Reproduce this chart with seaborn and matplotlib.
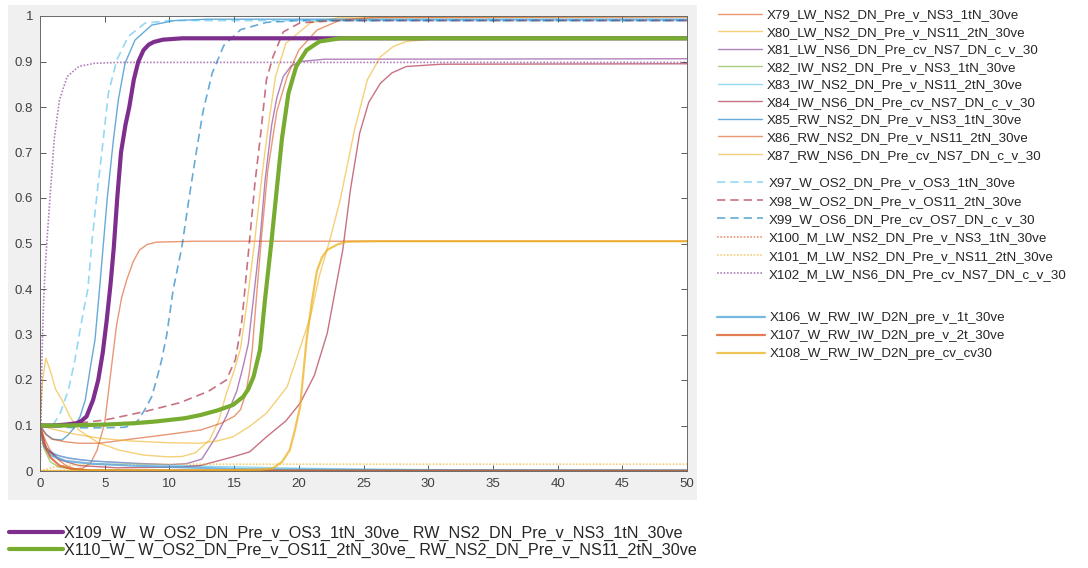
import matplotlib
matplotlib.use("Agg")
import matplotlib.pyplot as plt
from matplotlib.patches import Rectangle
import seaborn as sns

# ---- data ----
x79 = [0, 0.3, 0.7, 1.2, 2, 2.7, 3.3, 3.9, 4.4, 5.0, 5.4, 5.9, 6.3, 6.7, 7.2, 7.7, 8.3, 9, 12, 50]
y79 = [0.1, 0.075, 0.05, 0.03, 0.012, 0.005, 0.006, 0.017, 0.045, 0.105, 0.2, 0.317, 0.38, 0.42, 0.46, 0.486, 0.498, 0.503, 0.505, 0.505]

x80 = [0, 0.2, 0.45, 0.8, 1.2, 1.7, 2.3, 3.0, 4.5, 6.1, 8, 9.9, 11, 12, 12.6, 13.1, 13.8, 14.4, 15.0, 15.5, 16.0,
       16.6, 17.2, 17.7, 18.2, 19, 20.9, 23, 50]
y80 = [0.1, 0.2, 0.248, 0.22, 0.18, 0.156, 0.12, 0.09, 0.062, 0.046, 0.035, 0.031, 0.032, 0.04, 0.055, 0.068, 0.11,
       0.17, 0.22, 0.27, 0.37, 0.508, 0.66, 0.77, 0.867, 0.94, 0.985, 0.996, 0.998]

x81 = [0, 0.2, 0.5, 1, 2.2, 4, 7.3, 10, 11.3, 12.5, 13.6, 14.4, 15.2, 15.7, 16.1, 16.5, 17.0, 17.4, 17.9, 18.3, 18.8,
       19.4, 20.1, 22, 50]
y81 = [0.1, 0.07, 0.046, 0.037, 0.028, 0.022, 0.017, 0.014, 0.016, 0.026, 0.075, 0.12, 0.175, 0.23, 0.28, 0.38, 0.508,
       0.64, 0.76, 0.82, 0.867, 0.89, 0.9, 0.905, 0.906]

x82 = [0, 0.3, 0.8, 1.5, 3, 10, 50]
y82 = [0.1, 0.05, 0.02, 0.008, 0.003, 0.002, 0.001]

x83 = [0, 0.3, 0.7, 1.5, 3, 5, 8, 12, 20, 30, 50]
y83 = [0.1, 0.06, 0.045, 0.033, 0.025, 0.02, 0.015, 0.011, 0.006, 0.003, 0.002]

x84 = [0, 0.5, 1.5, 3, 6, 9, 11, 12.4, 14.9, 16.2, 17.5, 19.0, 20.1, 21.2, 22.2, 23.4, 24.0, 24.7, 25.4, 26.3, 27.2,
       28.3, 31, 50]
y84 = [0.1, 0.05, 0.025, 0.012, 0.007, 0.008, 0.009, 0.012, 0.031, 0.042, 0.075, 0.11, 0.149, 0.21, 0.303, 0.486,
       0.62, 0.742, 0.81, 0.852, 0.875, 0.889, 0.894, 0.895]

x85 = [0, 0.5, 1.0, 1.7, 2.2, 2.7, 3.1, 3.5, 3.9, 4.25, 4.6, 4.9, 5.2, 5.67, 6.05, 6.57, 7.34, 8.63, 10.4, 13, 50]
y85 = [0.1, 0.08, 0.07, 0.068, 0.08, 0.097, 0.12, 0.156, 0.229, 0.288, 0.4, 0.5, 0.6, 0.727, 0.815, 0.896, 0.947,
       0.98, 0.99, 0.993, 0.993]

x86 = [0, 0.4, 0.9, 2, 3, 4.6, 7, 9.8, 12.4, 14, 15.0, 15.5, 15.9, 16.2, 16.4, 16.75, 17.1, 17.6, 18.3, 19.1, 20,
       21.4, 23.2, 26, 50]
y86 = [0.1, 0.082, 0.07, 0.064, 0.061, 0.061, 0.07, 0.08, 0.09, 0.105, 0.12, 0.135, 0.17, 0.22, 0.266, 0.39, 0.508,
       0.66, 0.79, 0.867, 0.925, 0.969, 0.991, 0.997, 0.998]

x87 = [0, 1, 2.5, 4.6, 7, 10, 12.4, 13.7, 14.9, 16.2, 17.5, 19.1, 20.3, 20.9, 21.6, 22.4, 23.2, 24.3, 25.3, 26.3,
       27.3, 28.3, 30.9, 50]
y87 = [0.1, 0.092, 0.082, 0.072, 0.066, 0.062, 0.061, 0.066, 0.075, 0.098, 0.127, 0.185, 0.288, 0.339, 0.43, 0.508,
       0.596, 0.749, 0.86, 0.91, 0.933, 0.944, 0.951, 0.952]

x97 = [0, 0.5, 1.0, 1.6, 2.19, 2.7, 2.96, 3.35, 3.7, 4.0, 4.45, 4.9, 5.28, 5.93, 6.82, 8.1, 10, 50]
y97 = [0.1, 0.097, 0.1, 0.13, 0.178, 0.244, 0.288, 0.35, 0.4, 0.5, 0.62, 0.731, 0.83, 0.903, 0.955, 0.984, 0.99, 0.99]

x98 = [0, 2, 3.5, 5, 8, 10.8, 13, 14.4, 15.1, 15.6, 16.2, 16.6, 17.05, 17.5, 18.0, 18.8, 20.1, 23, 50]
y98 = [0.1, 0.1, 0.107, 0.112, 0.13, 0.15, 0.175, 0.2, 0.245, 0.33, 0.508, 0.63, 0.74, 0.86, 0.91, 0.965, 0.985,
       0.99, 0.99]

x99 = [0, 1, 2, 3, 5, 6.5, 7.1, 7.6, 8.1, 8.63, 9.0, 9.4, 9.8, 10.3, 10.95, 11.5, 12.1, 12.6, 13.3, 14.2, 15.5,
       17.5, 20, 50]
y99 = [0.1, 0.097, 0.096, 0.095, 0.095, 0.096, 0.1, 0.112, 0.135, 0.163, 0.2, 0.244, 0.3, 0.4, 0.49, 0.596, 0.705,
       0.79, 0.874, 0.935, 0.97, 0.986, 0.99, 0.99]

x100 = [0, 50]
y100 = [0.001, 0.001]

x101 = [0, 0.5, 1, 2, 3, 5, 50]
y101 = [0, 0.004, 0.008, 0.012, 0.014, 0.015, 0.015]

x102 = [0, 0.05, 0.1, 0.15, 0.25, 0.37, 0.5, 0.77, 1.1, 1.5, 2.1, 3, 4.2, 6, 50]
y102 = [0, 0.05, 0.15, 0.25, 0.35, 0.43, 0.49, 0.6, 0.73, 0.815, 0.867, 0.889, 0.896, 0.898, 0.898]

x106 = [0, 0.3, 0.8, 2, 4, 7, 11, 16, 25, 50]
y106 = [0.1, 0.055, 0.035, 0.022, 0.016, 0.012, 0.008, 0.004, 0.002, 0.001]

x107 = [0, 0.3, 0.8, 1.5, 2.5, 4, 50]
y107 = [0.1, 0.06, 0.03, 0.012, 0.004, 0.001, 0.0005]

x108 = [0, 5, 10, 15, 17, 18, 18.7, 19.3, 19.7, 20.1, 20.6, 21.0, 21.4, 21.8, 22.2, 23, 23.7, 26, 50]
y108 = [0, 0.001, 0.001, 0.002, 0.003, 0.006, 0.02, 0.046, 0.09, 0.141, 0.288, 0.37, 0.44, 0.47, 0.486, 0.498,
        0.504, 0.505, 0.505]

x109 = [0, 1, 2, 2.8, 3.2, 3.6, 4.1, 4.5, 4.85, 5.15, 5.45, 5.7, 5.97, 6.26, 6.6, 6.9, 7.25, 7.6, 8.0, 8.4, 8.8,
        9.5, 11, 50]
y109 = [0.1, 0.1, 0.102, 0.105, 0.11, 0.12, 0.156, 0.2, 0.26, 0.33, 0.41, 0.49, 0.6, 0.7, 0.76, 0.8, 0.86, 0.9,
        0.925, 0.937, 0.943, 0.948, 0.951, 0.951]

x110 = [0, 2, 5, 7.3, 9, 11.2, 12.4, 13.7, 14.9, 15.7, 16.1, 16.5, 17.0, 17.4, 17.9, 18.3, 18.7, 19.2, 19.8, 20.6,
        21.6, 23.2, 50]
y110 = [0.1, 0.1, 0.102, 0.105, 0.109, 0.116, 0.123, 0.133, 0.145, 0.163, 0.18, 0.207, 0.266, 0.38, 0.508, 0.62,
        0.731, 0.83, 0.889, 0.925, 0.944, 0.951, 0.951]

labels_a = ["X79_LW_NS2_DN_Pre_v_NS3_1tN_30ve", "X80_LW_NS2_DN_Pre_v_NS11_2tN_30ve",
            "X81_LW_NS6_DN_Pre_cv_NS7_DN_c_v_30", "X82_IW_NS2_DN_Pre_v_NS3_1tN_30ve",
            "X83_IW_NS2_DN_Pre_v_NS11_2tN_30ve", "X84_IW_NS6_DN_Pre_cv_NS7_DN_c_v_30",
            "X85_RW_NS2_DN_Pre_v_NS3_1tN_30ve", "X86_RW_NS2_DN_Pre_v_NS11_2tN_30ve",
            "X87_RW_NS6_DN_Pre_cv_NS7_DN_c_v_30"]
labels_b = ["X97_W_OS2_DN_Pre_v_OS3_1tN_30ve", "X98_W_OS2_DN_Pre_v_OS11_2tN_30ve",
            "X99_W_OS6_DN_Pre_cv_OS7_DN_c_v_30", "X100_M_LW_NS2_DN_Pre_v_NS3_1tN_30ve",
            "X101_M_LW_NS2_DN_Pre_v_NS11_2tN_30ve", "X102_M_LW_NS6_DN_Pre_cv_NS7_DN_c_v_30"]
labels_c = ["X106_W_RW_IW_D2N_pre_v_1t_30ve", "X107_W_RW_IW_D2N_pre_v_2t_30ve", "X108_W_RW_IW_D2N_pre_cv_cv30"]
labels_d = ["X109_W_ W_OS2_DN_Pre_v_OS3_1tN_30ve_ RW_NS2_DN_Pre_v_NS3_1tN_30ve",
            "X110_W_ W_OS2_DN_Pre_v_OS11_2tN_30ve_ RW_NS2_DN_Pre_v_NS11_2tN_30ve"]

xticks = list(range(0, 51, 5))
yticks = [0, 0.1, 0.2, 0.3, 0.4, 0.5, 0.6, 0.7, 0.8, 0.9, 1]
ytick_labels = ["0", "0.1", "0.2", "0.3", "0.4", "0.5", "0.6", "0.7", "0.8", "0.9", "1"]

# MATLAB default colours
blue, orange, yellow, purple = "#0072BD", "#D95319", "#EDB120", "#7E2F8E"
green, cyan, red = "#77AC30", "#4DBEEE", "#A2142F"
dash = (0, (5, 3))
dot = (0, (1, 1))

series_a = [(x79, y79, orange), (x80, y80, yellow), (x81, y81, purple), (x82, y82, green),
            (x83, y83, cyan), (x84, y84, red), (x85, y85, blue), (x86, y86, orange), (x87, y87, yellow)]
series_b = [(x97, y97, cyan, dash), (x98, y98, red, dash), (x99, y99, blue, dash),
            (x100, y100, orange, dot), (x101, y101, yellow, dot), (x102, y102, purple, dot)]
series_c = [(x106, y106, "#4a9fd8"), (x107, y107, orange), (x108, y108, yellow)]
series_d = [(x109, y109, purple), (x110, y110, green)]

sns.set_style("ticks")
plt.rcParams['font.family'] = ['Liberation Sans', 'DejaVu Sans']

fig = plt.figure(figsize=(10.88, 5.68), dpi=100)
fig.add_artist(Rectangle((8 / 1088, 68 / 568), 689 / 1088, 495 / 568, transform=fig.transFigure,
                         facecolor="#f0f0f0", edgecolor="none", zorder=-1))
ax = fig.add_axes([40 / 1088, 97 / 568, 647 / 1088, 455 / 568])
ax.set_facecolor("white")

def draw(x, y, color, ls="-", lw=1.0, alpha=0.6):
    sns.lineplot(x=x, y=y, ax=ax, color=color, linestyle=ls, lw=lw, alpha=alpha,
                 sort=False, estimator=None)
    return ax.lines[-1]

h_a = [draw(x, y, c) for x, y, c in series_a]
h_b = [draw(x, y, c, ls, 1.2) for x, y, c, ls in series_b]
h_c = [draw(x, y, c, lw=1.6, alpha=0.75) for x, y, c in series_c]
h_d = [draw(x, y, c, lw=3.0, alpha=1.0) for x, y, c in series_d]

ax.set_xlim(0, 50)
ax.set_ylim(0, 1)
ax.set_xticks(xticks)
ax.set_yticks(yticks)
ax.set_yticklabels(ytick_labels)
ax.set_xlabel("")
ax.set_ylabel("")
ax.tick_params(direction="in", top=True, right=True, length=4, width=0.6,
               labelsize=9.5, colors="#404040", pad=5)
for s in ax.spines.values():
    s.set_color("#6a6a6a")
    s.set_linewidth(0.7)

common = dict(frameon=False, loc="upper left", borderpad=0, borderaxespad=0)
fig.legend(h_a, labels_a, bbox_to_anchor=(718 / 1088, 1 - 9 / 568), fontsize=9.6,
           handlelength=3.3, handletextpad=0.37, labelspacing=0.39, **common)
fig.legend(h_b, labels_b, bbox_to_anchor=(717 / 1088, 1 - 177 / 568), fontsize=9.6,
           handlelength=3.45, handletextpad=0.45, labelspacing=0.45, **common)
fig.legend(h_c, labels_c, bbox_to_anchor=(717 / 1088, 1 - 312 / 568), fontsize=9.6,
           handlelength=3.6, handletextpad=0.37, labelspacing=0.43, **common)
fig.legend(h_d, labels_d, bbox_to_anchor=(9 / 1088, 1 - 526 / 568), fontsize=11.65,
           handlelength=3.35, handletextpad=0.05, labelspacing=0.08, **common)

fig.savefig("out.png", dpi=100)
